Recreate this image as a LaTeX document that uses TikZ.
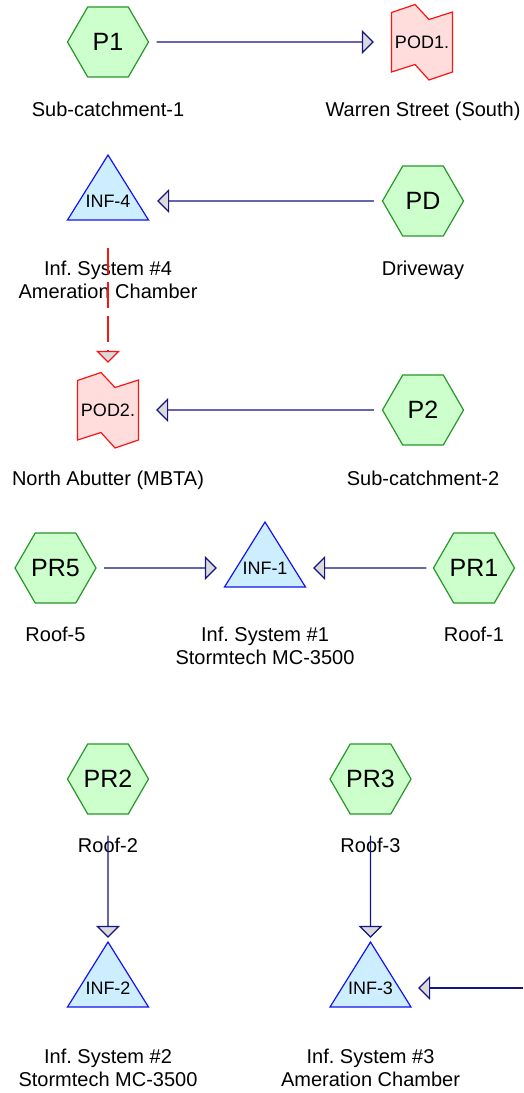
\documentclass[tikz,border=0pt]{standalone}
\usepackage{fontspec}
\setmainfont{Liberation Sans}
\usetikzlibrary{arrows.meta,shapes.geometric}
\frenchspacing

\definecolor{hexfill}{RGB}{204,255,204}
\definecolor{hexline}{RGB}{40,150,40}
\definecolor{trifill}{RGB}{204,238,255}
\definecolor{triline}{RGB}{20,20,240}
\definecolor{podfill}{RGB}{255,221,221}
\definecolor{podline}{RGB}{250,20,20}
\definecolor{linkline}{RGB}{20,20,130}
\definecolor{tipfill}{RGB}{218,218,218}

\tikzset{
  % subcatchments: green hexagons
  subcat/.style={regular polygon, regular polygon sides=6, minimum size=81pt,
    inner sep=0pt, draw=hexline, fill=hexfill, line width=1.2pt,
    font=\fontsize{25}{25}\selectfont},
  % ponds: triangle outline drawn by a pic, text node on top
  tripath/.style={draw=triline, fill=trifill, line width=1.2pt},
  trilabel/.style={minimum width=81pt, minimum height=38pt, inner sep=0pt,
    font=\fontsize{18}{18}\selectfont},
  trishape/.pic={\path[tripath] (0,-46) -- (40.5,19) -- (-40.5,19) -- cycle;},
  % points of discharge: notched red sheet
  podpath/.style={draw=podline, fill=podfill, line width=1.2pt, line join=miter},
  podlabel/.style={minimum width=61pt, minimum height=60pt, inner sep=0pt,
    font=\fontsize{18}{18}\selectfont},
  podshape/.pic={\path[podpath] (-30.5,-29.5) -- (-7,-37.5) -- (7,-22.5)
    -- (30.5,-30) -- (30.5,30) -- (7,38) -- (-7,22.5) -- (-30.5,30) -- cycle;},
  % captions
  caption/.style={font=\fontsize{20}{23}\selectfont, inner sep=0pt, anchor=base},
  caption2/.style={font=\fontsize{20}{23}\selectfont, inner sep=0pt,
    anchor=north, align=center},
  % routing links
  link/.style={draw=linkline, line width=1.2pt,
    -{Triangle[length=12pt,width=24pt,fill=tipfill]}},
  spill/.style={draw=podline, line width=1.2pt, dash pattern=on 26pt off 8pt,
    -{Triangle[length=12pt,width=24pt,fill=tipfill]}},
}

\begin{document}
\begin{tikzpicture}[x=1pt,y=-1pt]
\useasboundingbox (0,0) rectangle (523,1093);

% shapes behind the pond and discharge labels
\pic at (422,42) {podshape};
\pic at (108,201) {trishape};
\pic at (108,410) {podshape};
\pic at (265,568) {trishape};
\pic at (108,988) {trishape};
\pic at (370.5,988) {trishape};

% row 1
\node[subcat] (P1) at (108,42) {P1};
\node[podlabel] (POD1) at (422,42) {POD1.};
\node[caption] (capP1) at (108,116.5) {Sub-catchment-1};
\node[caption] (capPOD1) at (423,116.5) {Warren Street (South)};

% row 2
\node[trilabel] (INF4) at (108,201) {INF-4};
\node[subcat] (PD) at (423,201) {PD};
\node[caption2] (capINF4) at (108,261) {Inf. System \#4\\Ameration Chamber};
\node[caption] (capPD) at (423,275.5) {Driveway};

% row 3
\node[podlabel] (POD2) at (108,410) {POD2.};
\node[subcat] (P2) at (423,410) {P2};
\node[caption] (capPOD2) at (108,485.5) {North Abutter (MBTA)};
\node[caption] (capP2) at (423,485.5) {Sub-catchment-2};

% row 4
\node[subcat] (PR5) at (55.5,568) {PR5};
\node[trilabel] (INF1) at (265,568) {INF-1};
\node[subcat] (PR1) at (474,568) {PR1};
\node[caption] (capPR5) at (55.5,641.5) {Roof-5};
\node[caption2] (capINF1) at (265,627) {Inf. System \#1\\Stormtech MC-3500};
\node[caption] (capPR1) at (474,641.5) {Roof-1};

% row 5
\node[subcat] (PR2) at (108,779) {PR2};
\node[subcat] (PR3) at (370.5,779) {PR3};
\node[caption] (capPR2) at (108,852) {Roof-2};
\node[caption] (capPR3) at (370.5,852) {Roof-3};

% row 6
\node[trilabel] (INF2) at (108,988) {INF-2};
\node[trilabel] (INF3) at (370.5,988) {INF-3};
\node[caption2] (capINF2) at (108,1048.5) {Inf. System \#2\\Stormtech MC-3500};
\node[caption2] (capINF3) at (370.5,1048.5) {Inf. System \#3\\Ameration Chamber};
\coordinate (INF3in) at (523,988);

% routing
\draw[link, shorten <=7.5pt, shorten >=17.5pt] (P1) -- (POD1);
\draw[link, shorten <=8pt, shorten >=8.5pt] (PD) -- (INF4);
\draw[spill, shorten <=28pt, shorten >=17pt] (INF4) -- (POD2);
\draw[link, shorten <=8pt, shorten >=17.5pt] (P2) -- (POD2);
\draw[link, shorten <=7.5pt, shorten >=7.5pt] (PR5) -- (INF1);
\draw[link, shorten <=6.5pt, shorten >=7.5pt] (PR1) -- (INF1);
\draw[link, shorten <=21pt, shorten >=31pt] (PR2) -- (INF2);
\draw[link, shorten <=21pt, shorten >=31pt] (PR3) -- (INF3);
\draw[link, shorten >=7pt] (INF3in) -- (INF3);
\end{tikzpicture}
\end{document}
